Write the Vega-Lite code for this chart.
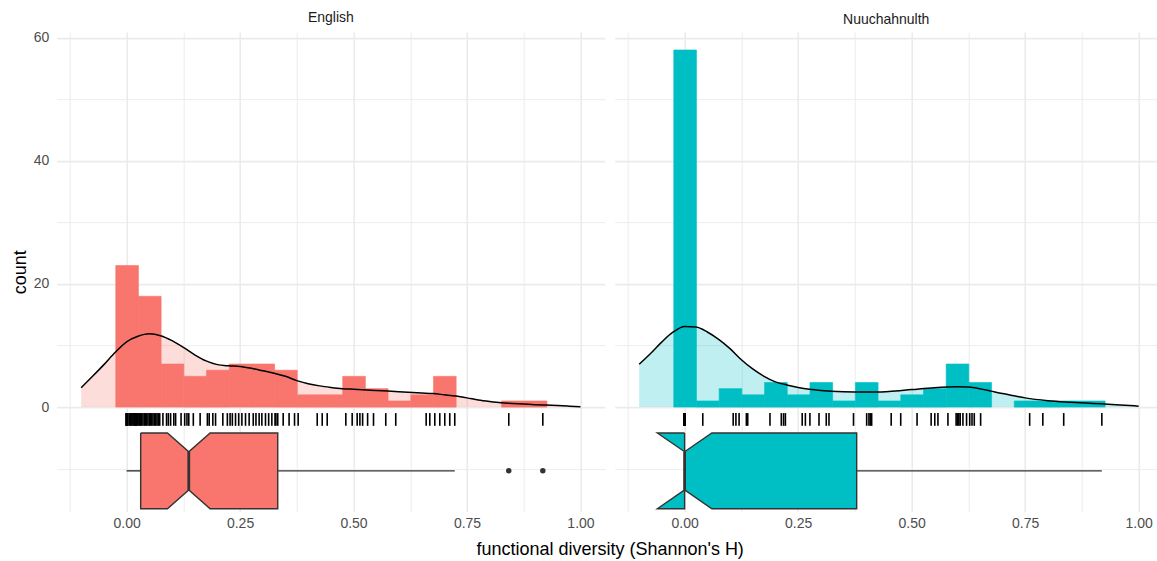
{
"$schema": "https://vega.github.io/schema/vega-lite/v6.json",
"padding": {"left": 10.7, "top": 11.1, "right": 0, "bottom": 0},
"autosize": {"type": "pad"},
"bounds": "flush",
"spacing": 9,
"datasets": {
"eng": [{"value":0},{"value":0},{"value":0},{"value":0},{"value":0},{"value":0},{"value":0},{"value":0},{"value":0},{"value":0},
{"value":0.003},{"value":0.006},{"value":0.008},{"value":0.01},{"value":0.012},{"value":0.014},{"value":0.016},{"value":0.018},{"value":0.019},{"value":0.02},{"value":0.021},{"value":0.022},{"value":0.024},
{"value":0.027},{"value":0.029},{"value":0.031},{"value":0.033},{"value":0.036},{"value":0.039},{"value":0.041},{"value":0.044},{"value":0.047},{"value":0.05},{"value":0.052},{"value":0.055},{"value":0.058},{"value":0.061},{"value":0.064},{"value":0.067},{"value":0.07},{"value":0.073},
{"value":0.08},{"value":0.088},{"value":0.092},{"value":0.097},{"value":0.104},{"value":0.108},{"value":0.12},
{"value":0.128},{"value":0.133},{"value":0.137},{"value":0.147},{"value":0.162},
{"value":0.178},{"value":0.182},{"value":0.19},{"value":0.196},{"value":0.212},{"value":0.222},
{"value":0.228},{"value":0.233},{"value":0.24},{"value":0.247},{"value":0.254},{"value":0.262},{"value":0.27},
{"value":0.279},{"value":0.285},{"value":0.292},{"value":0.298},{"value":0.306},{"value":0.313},{"value":0.32},
{"value":0.327},{"value":0.329},{"value":0.333},{"value":0.345},{"value":0.358},{"value":0.37},
{"value":0.378},{"value":0.42},
{"value":0.431},{"value":0.442},
{"value":0.483},{"value":0.497},{"value":0.508},{"value":0.514},{"value":0.52},
{"value":0.531},{"value":0.544},{"value":0.571},
{"value":0.593},
{"value":0.66},{"value":0.668},
{"value":0.679},{"value":0.69},{"value":0.701},{"value":0.712},{"value":0.723},
{"value":0.842},{"value":0.917}],
"nuu": [{"value":0},{"value":0},{"value":0},{"value":0},{"value":0},{"value":0},{"value":0},{"value":0},{"value":0},{"value":0},
{"value":0},{"value":0},{"value":0},{"value":0},{"value":0},{"value":0},{"value":0},{"value":0},{"value":0},{"value":0},
{"value":0},{"value":0},{"value":0},{"value":0},{"value":0},{"value":0},{"value":0},{"value":0},{"value":0},{"value":0},
{"value":0},{"value":0},{"value":0},{"value":0},{"value":0},{"value":0},{"value":0},{"value":0},{"value":0},{"value":0},
{"value":0},{"value":0},{"value":0},{"value":0},{"value":0},{"value":0},{"value":0},{"value":0},{"value":0},{"value":0},
{"value":0},{"value":0},{"value":0},{"value":0},{"value":0},{"value":0},{"value":0},{"value":0},
{"value":0.04},
{"value":0.107},{"value":0.113},{"value":0.12},
{"value":0.136},{"value":0.139},
{"value":0.188},{"value":0.213},{"value":0.218},{"value":0.222},
{"value":0.259},{"value":0.266},
{"value":0.276},{"value":0.296},{"value":0.312},{"value":0.318},
{"value":0.372},
{"value":0.401},{"value":0.406},{"value":0.409},{"value":0.412},
{"value":0.455},
{"value":0.476},{"value":0.512},
{"value":0.543},{"value":0.551},{"value":0.558},
{"value":0.58},{"value":0.598},{"value":0.601},{"value":0.604},{"value":0.607},{"value":0.613},{"value":0.621},
{"value":0.628},{"value":0.633},{"value":0.638},{"value":0.652},
{"value":0.76},{"value":0.789},{"value":0.835},{"value":0.919}],
"engDens": [{"x":-0.1,"count":3.15},{"x":-0.075,"count":5.0},{"x":-0.05,"count":6.9},{"x":-0.025,"count":8.9},{"x":0,"count":10.6},{"x":0.025,"count":11.5},{"x":0.05,"count":11.9},{"x":0.075,"count":11.6},{"x":0.1,"count":10.8},{"x":0.125,"count":9.7},{"x":0.15,"count":8.5},{"x":0.175,"count":7.5},{"x":0.2,"count":6.9},{"x":0.225,"count":6.7},{"x":0.25,"count":6.6},{"x":0.275,"count":6.3},{"x":0.3,"count":5.9},{"x":0.325,"count":5.5},{"x":0.35,"count":5.0},{"x":0.375,"count":4.3},{"x":0.4,"count":3.8},{"x":0.425,"count":3.45},{"x":0.45,"count":3.2},{"x":0.475,"count":3.0},{"x":0.5,"count":2.9},{"x":0.55,"count":2.7},{"x":0.6,"count":2.5},{"x":0.65,"count":2.3},{"x":0.675,"count":2.2},{"x":0.7,"count":2.0},{"x":0.725,"count":1.8},{"x":0.75,"count":1.5},{"x":0.775,"count":1.15},{"x":0.8,"count":0.9},{"x":0.825,"count":0.7},{"x":0.85,"count":0.6},{"x":0.875,"count":0.5},{"x":0.9,"count":0.4},{"x":0.925,"count":0.33},{"x":0.95,"count":0.25},{"x":0.975,"count":0.15},{"x":1.0,"count":0.05}],
"nuuDens": [{"x":-0.1,"count":6.96},{"x":-0.075,"count":8.7},{"x":-0.05,"count":10.6},{"x":-0.025,"count":12.2},{"x":0,"count":13.1},{"x":0.025,"count":13.0},{"x":0.05,"count":12.2},{"x":0.075,"count":11.0},{"x":0.1,"count":9.5},{"x":0.125,"count":7.7},{"x":0.15,"count":6.2},{"x":0.175,"count":5.0},{"x":0.2,"count":4.1},{"x":0.225,"count":3.6},{"x":0.25,"count":3.2},{"x":0.275,"count":2.9},{"x":0.3,"count":2.7},{"x":0.35,"count":2.5},{"x":0.4,"count":2.45},{"x":0.425,"count":2.45},{"x":0.45,"count":2.55},{"x":0.5,"count":2.85},{"x":0.55,"count":3.15},{"x":0.6,"count":3.3},{"x":0.625,"count":3.25},{"x":0.65,"count":3.0},{"x":0.675,"count":2.6},{"x":0.7,"count":2.2},{"x":0.725,"count":1.85},{"x":0.75,"count":1.5},{"x":0.8,"count":1.05},{"x":0.85,"count":0.8},{"x":0.9,"count":0.6},{"x":0.95,"count":0.4},{"x":1.0,"count":0.16}],
"engBox": [{"i":1,"x":0.031,"y":-4.2},{"i":2,"x":0.09,"y":-4.2},{"i":3,"x":0.137,"y":-7.25},{"i":4,"x":0.184,"y":-4.2},{"i":5,"x":0.333,"y":-4.2},{"i":6,"x":0.333,"y":-16.5},{"i":7,"x":0.184,"y":-16.5},{"i":8,"x":0.137,"y":-13.45},{"i":9,"x":0.09,"y":-16.5},{"i":10,"x":0.031,"y":-16.5},{"i":11,"x":0.031,"y":-4.2}],
"nuuBox": [{"i":1,"x":0,"y":-4.2},{"i":2,"x":-0.06,"y":-4.2},{"i":3,"x":0,"y":-7.25},{"i":4,"x":0.06,"y":-4.2},{"i":5,"x":0.379,"y":-4.2},{"i":6,"x":0.379,"y":-16.5},{"i":7,"x":0.06,"y":-16.5},{"i":8,"x":0,"y":-13.45},{"i":9,"x":-0.06,"y":-16.5},{"i":10,"x":0,"y":-16.5},{"i":11,"x":0,"y":-4.2}],
"engStats": [{"q1":0.031,"med":0.137,"q3":0.333,"wlo":0,"whi":0.723}],
"nuuStats": [{"q1":0,"med":0,"q3":0.379,"wlo":0,"whi":0.919}]
},
"hconcat": [
{
"width": 548.3, "height": 479.4,
"title": {"text": "English"},
"layer": [
{"data": {"name": "engDens"},
 "mark": {"type": "area", "color": "#F8766D", "fillOpacity": 0.25, "interpolate": "monotone"},
 "encoding": {
  "x": {"field": "x", "type": "quantitative", "title": "functional diversity (Shannon's H)", "scale": {"domain": [-0.154, 1.054], "nice": false, "zero": false},
        "axis": {"values": [-0.125,0,0.125,0.25,0.375,0.5,0.625,0.75,0.875,1],
                 "labelExpr": "abs(datum.value*4-round(datum.value*4))<0.001 ? format(datum.value,'.2f') : ''",
                 "gridWidth": {"condition": {"test": "abs(datum.value*4-round(datum.value*4))<0.001", "value": 1.6}, "value": 0.9},
                 "title": "functional diversity (Shannon's H)", "titleX": 553, "titleY": 43, "titleAlign": "center", "titleBaseline": "alphabetic"}},
  "y": {"field": "count", "type": "quantitative", "title": "count", "scale": {"domain": [-16.95, 60.9], "nice": false, "zero": false},
        "axis": {"values": [-10,0,10,20,30,40,50,60],
                 "labelExpr": "datum.value>=0 && datum.value%20==0 ? datum.label : ''",
                 "gridWidth": {"condition": {"test": "datum.value%20==0", "value": 1.6}, "value": 0.9},
                 "labelPadding": 8,
                 "title": "count", "titlePadding": 4}}
 }},
{"data": {"name": "eng"},
 "mark": {"type": "bar", "color": "#F8766D", "stroke": "#F8766D", "strokeWidth": 0.6, "binSpacing": 0},
 "encoding": {
  "x": {"field": "value", "type": "quantitative", "title": "functional diversity (Shannon's H)", "bin": {"extent": [-0.025, 0.975], "step": 0.05, "nice": false}, "scale": {"domain": [-0.154, 1.054], "nice": false, "zero": false}},
  "y": {"aggregate": "count", "type": "quantitative", "title": "count", "scale": {"domain": [-16.95, 60.9], "nice": false, "zero": false}}
 }},
{"data": {"name": "engDens"},
 "mark": {"type": "line", "color": "#000000", "strokeWidth": 1.5, "interpolate": "monotone"},
 "encoding": {
  "x": {"field": "x", "type": "quantitative", "title": "functional diversity (Shannon's H)"},
  "y": {"field": "count", "type": "quantitative", "title": "count"}
 }},
{"data": {"name": "eng"},
 "mark": {"type": "rule", "color": "#000000", "strokeWidth": 1.6},
 "encoding": {
  "x": {"field": "value", "type": "quantitative", "title": "functional diversity (Shannon's H)"},
  "y": {"datum": -0.97},
  "y2": {"datum": -3.04}
 }},
{"data": {"name": "engStats"},
 "mark": {"type": "rule", "color": "#333333", "strokeWidth": 1.4},
 "encoding": {
  "x": {"field": "wlo", "type": "quantitative", "title": "functional diversity (Shannon's H)"},
  "x2": {"field": "q1"},
  "y": {"datum": -10.35}
 }},
{"data": {"name": "engStats"},
 "mark": {"type": "rule", "color": "#333333", "strokeWidth": 1.4},
 "encoding": {
  "x": {"field": "q3", "type": "quantitative", "title": "functional diversity (Shannon's H)"},
  "x2": {"field": "whi"},
  "y": {"datum": -10.35}
 }},
{"data": {"name": "engBox"},
 "mark": {"type": "line", "fill": "#F8766D", "stroke": "#333333", "strokeWidth": 1.4, "strokeJoin": "miter"},
 "encoding": {
  "x": {"field": "x", "type": "quantitative", "title": "functional diversity (Shannon's H)"},
  "y": {"field": "y", "type": "quantitative", "title": "count"},
  "order": {"field": "i", "type": "quantitative"}
 }},
{"data": {"name": "engStats"},
 "mark": {"type": "rule", "color": "#333333", "strokeWidth": 2.8},
 "encoding": {
  "x": {"field": "med", "type": "quantitative", "title": "functional diversity (Shannon's H)"},
  "y": {"datum": -7.25},
  "y2": {"datum": -13.45}
 }},
{"data": {"name": "eng"},
 "transform": [{"filter": "datum.value > 0.8"}],
 "mark": {"type": "point", "filled": true, "color": "#333333", "size": 30, "opacity": 1},
 "encoding": {
  "x": {"field": "value", "type": "quantitative", "title": "functional diversity (Shannon's H)"},
  "y": {"datum": -10.35}
 }}
]
},
{
"width": 543, "height": 479.4,
"title": {"text": "Nuuchahnulth"},
"layer": [
{"data": {"name": "nuuDens"},
 "mark": {"type": "area", "color": "#00BFC4", "fillOpacity": 0.25, "interpolate": "monotone"},
 "encoding": {
  "x": {"field": "x", "type": "quantitative", "title": null, "scale": {"domain": [-0.154, 1.042], "nice": false, "zero": false},
        "axis": {"values": [-0.125,0,0.125,0.25,0.375,0.5,0.625,0.75,0.875,1],
                 "labelExpr": "abs(datum.value*4-round(datum.value*4))<0.001 ? format(datum.value,'.2f') : ''",
                 "gridWidth": {"condition": {"test": "abs(datum.value*4-round(datum.value*4))<0.001", "value": 1.6}, "value": 0.9},
                 "title": null}},
  "y": {"field": "count", "type": "quantitative", "title": null, "scale": {"domain": [-16.95, 60.9], "nice": false, "zero": false},
        "axis": {"values": [-10,0,10,20,30,40,50,60], "labels": false, "title": null,
                 "gridWidth": {"condition": {"test": "datum.value%20==0", "value": 1.6}, "value": 0.9}}}
 }},
{"data": {"name": "nuu"},
 "mark": {"type": "bar", "color": "#00BFC4", "stroke": "#00BFC4", "strokeWidth": 0.6, "binSpacing": 0},
 "encoding": {
  "x": {"field": "value", "type": "quantitative", "title": null, "bin": {"extent": [-0.025, 0.975], "step": 0.05, "nice": false}, "scale": {"domain": [-0.154, 1.042], "nice": false, "zero": false}},
  "y": {"aggregate": "count", "type": "quantitative", "title": null, "scale": {"domain": [-16.95, 60.9], "nice": false, "zero": false}}
 }},
{"data": {"name": "nuuDens"},
 "mark": {"type": "line", "color": "#000000", "strokeWidth": 1.5, "interpolate": "monotone"},
 "encoding": {
  "x": {"field": "x", "type": "quantitative", "title": null},
  "y": {"field": "count", "type": "quantitative", "title": null}
 }},
{"data": {"name": "nuu"},
 "mark": {"type": "rule", "color": "#000000", "strokeWidth": 1.6},
 "encoding": {
  "x": {"field": "value", "type": "quantitative", "title": null},
  "y": {"datum": -0.97},
  "y2": {"datum": -3.04}
 }},
{"data": {"name": "nuuStats"},
 "mark": {"type": "rule", "color": "#333333", "strokeWidth": 1.4},
 "encoding": {
  "x": {"field": "q3", "type": "quantitative", "title": null},
  "x2": {"field": "whi"},
  "y": {"datum": -10.35}
 }},
{"data": {"name": "nuuBox"},
 "mark": {"type": "line", "fill": "#00BFC4", "stroke": "#333333", "strokeWidth": 1.4, "strokeJoin": "miter"},
 "encoding": {
  "x": {"field": "x", "type": "quantitative", "title": null},
  "y": {"field": "y", "type": "quantitative", "title": null},
  "order": {"field": "i", "type": "quantitative"}
 }},
{"data": {"name": "nuuStats"},
 "mark": {"type": "rule", "color": "#333333", "strokeWidth": 2.8},
 "encoding": {
  "x": {"field": "med", "type": "quantitative", "title": null},
  "y": {"datum": -7.25},
  "y2": {"datum": -13.45}
 }}
]
}
],
"config": {
 "font": "Liberation Sans",
 "view": {"stroke": null},
 "axis": {"gridColor": "#EBEBEB", "ticks": false, "domain": false, "labelColor": "#4D4D4D", "labelFontSize": 14, "labelPadding": 5, "titleFontSize": 18, "titleFontWeight": "normal", "titleColor": "#000000", "labelOverlap": false, "labelFlush": false},
 "title": {"fontSize": 14, "fontWeight": "normal", "color": "#1A1A1A", "baseline": "alphabetic", "offset": 5.3, "anchor": "middle"}
}
}
